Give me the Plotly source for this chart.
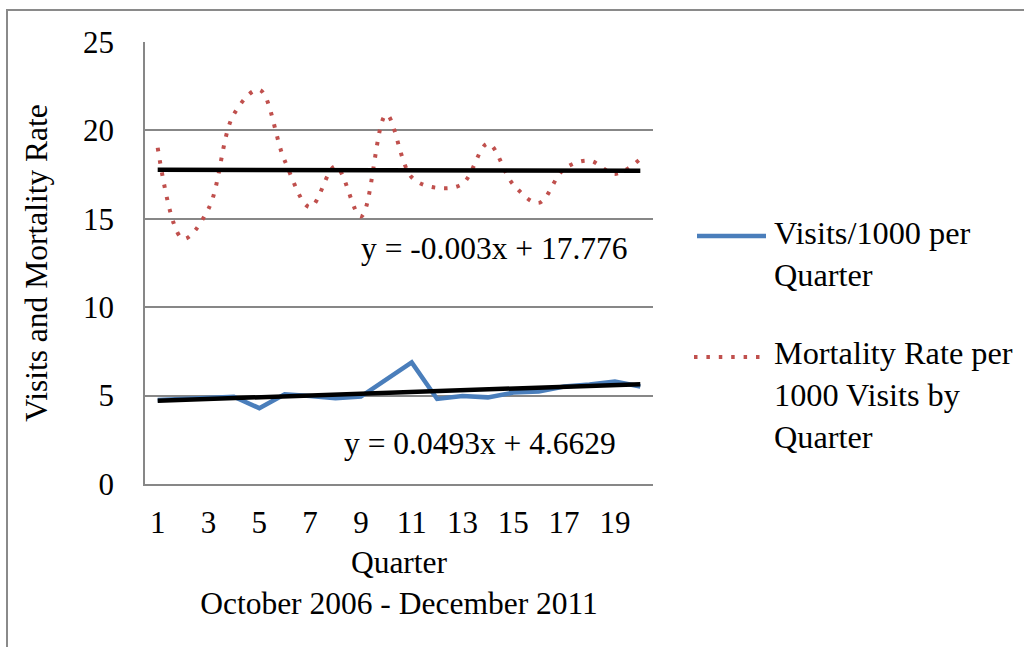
import plotly.graph_objects as go

# Quarterly series, October 2006 - December 2011
quarters = list(range(1, 21))
visits_per_1000 = [4.75, 4.81, 4.85, 4.94, 4.29, 5.07, 4.98, 4.85, 4.94, 5.88,
                   6.88, 4.81, 4.98, 4.90, 5.17, 5.23, 5.51, 5.63, 5.79, 5.51]
mortality_per_1000 = [19.02, 13.87, 15.57, 20.92, 22.30, 18.29, 15.66, 17.97, 15.13, 20.89,
                      17.35, 16.75, 16.98, 19.25, 16.94, 15.90, 17.82, 18.29, 17.54, 18.39]

# Linear trend coefficients (slope, intercept)
visits_trend = (0.0493, 4.6629)
mortality_trend = (-0.003, 17.776)

x_ticks = list(range(1, 21, 2))
y_ticks = [0, 5, 10, 15, 20, 25]

series_names = ["Visits/1000 per<br>Quarter", "Mortality Rate per<br>1000 Visits by<br>Quarter"]
x_title = "Quarter<br>October 2006 - December 2011"
y_title = "Visits and Mortality Rate"

BLUE = "#4A7EBB"
RED = "#C0504D"
GRID = "#878787"
FONT = "Liberation Serif, Times New Roman, serif"

# Plot-area placement in pixels (figure is 1024 x 647)
L, R, T, B = 145, 653, 42, 484
W, H = R - L, B - T


def px_x(px):
    return (px - L) / W


def px_y(py):
    return (B - py) / H


def trend_line(coef):
    slope, intercept = coef
    xs = [quarters[0], quarters[-1]]
    return xs, [slope * x + intercept for x in xs]


fig = go.Figure()

fig.add_trace(go.Scatter(
    x=quarters, y=visits_per_1000, mode="lines",
    line=dict(color=BLUE, width=4.5), showlegend=False,
))
fig.add_trace(go.Scatter(
    x=quarters, y=mortality_per_1000, mode="lines",
    line=dict(color=RED, width=4, dash="3.5px,8.9px", shape="spline", smoothing=1.0),
    showlegend=False,
))

for coef in (visits_trend, mortality_trend):
    tx, ty = trend_line(coef)
    fig.add_trace(go.Scatter(x=tx, y=ty, mode="lines",
                             line=dict(color="black", width=4.5), showlegend=False))


def eq_text(coef):
    slope, intercept = coef
    sign = "+" if intercept >= 0 else "-"
    return f"y = {slope:g}x {sign} {abs(intercept):g}"


EQ_FONT = dict(family=FONT, size=31.5, color="black")
LEG_FONT = dict(family=FONT, size=32.3, color="black")
TITLE_FONT = dict(family=FONT, size=31.5, color="black")
TICK_FONT = dict(family=FONT, size=31, color="black")

annotations = [
    dict(x=14.24, y=13.3, xref="x", yref="y", text=eq_text(mortality_trend),
         showarrow=False, font=EQ_FONT),
    dict(x=13.69, y=2.3, xref="x", yref="y", text=eq_text(visits_trend),
         showarrow=False, font=EQ_FONT),
    # legend text
    dict(x=px_x(772), y=px_y(254), xref="paper", yref="paper", text=series_names[0],
         xanchor="left", yanchor="middle", align="left", showarrow=False, font=LEG_FONT),
    dict(x=px_x(772), y=px_y(395), xref="paper", yref="paper", text=series_names[1],
         xanchor="left", yanchor="middle", align="left", showarrow=False, font=LEG_FONT),
]

shapes = [
    # outer chart border (left and top edges)
    dict(type="path", xref="paper", yref="paper",
         path=f"M {px_x(7)},{px_y(700)} L {px_x(7)},{px_y(10)} L {px_x(1030)},{px_y(10)}",
         line=dict(color="#8A8A8A", width=2)),
    # legend keys
    dict(type="line", xref="paper", yref="paper",
         x0=px_x(697), x1=px_x(766), y0=px_y(236), y1=px_y(236),
         line=dict(color=BLUE, width=4.5)),
    dict(type="line", xref="paper", yref="paper",
         x0=px_x(694), x1=px_x(762), y0=px_y(357), y1=px_y(357),
         line=dict(color=RED, width=4, dash="3.5px,8.9px")),
]

fig.update_layout(
    width=1024, height=647,
    margin=dict(l=L, r=1024 - R, t=T, b=647 - B, pad=0),
    paper_bgcolor="white", plot_bgcolor="white",
    font=dict(family=FONT, size=30, color="black"),
    showlegend=False,
    annotations=annotations,
    shapes=shapes,
)

fig.update_xaxes(
    range=[0.5, 20.5], tickmode="array", tickvals=x_ticks,
    ticktext=[str(t) for t in x_ticks],
    showgrid=False, zeroline=False, showline=True, linecolor=GRID, linewidth=1.5,
    ticks="", ticklabelstandoff=10,
    tickfont=TICK_FONT,
    title=dict(text=x_title, font=TITLE_FONT, standoff=12),
)
fig.update_yaxes(
    range=[0, 25], tickmode="array", tickvals=y_ticks,
    showgrid=True, gridcolor=GRID, gridwidth=1.5,
    zeroline=False, showline=True, linecolor=GRID, linewidth=1.5,
    ticks="", ticklabelstandoff=23,
    tickfont=TICK_FONT,
    title=dict(text=y_title, font=TITLE_FONT, standoff=26),
)

fig.write_html("out.html")
